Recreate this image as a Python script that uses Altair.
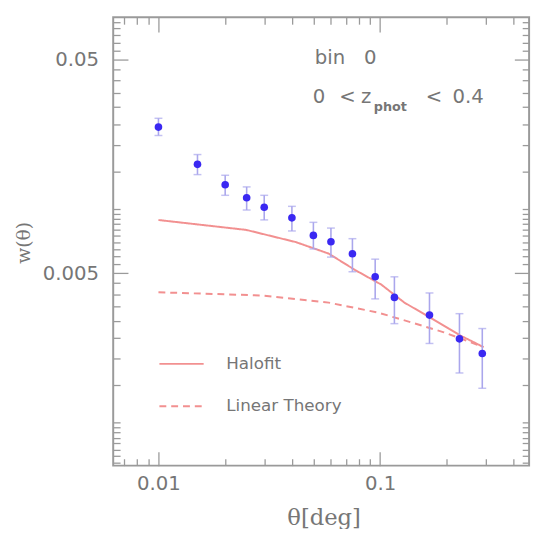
import altair as alt
import pandas as pd

# ---- data ----
theta = [0.01, 0.015, 0.02, 0.025, 0.03, 0.04, 0.05, 0.06, 0.075, 0.095, 0.116, 0.167, 0.228, 0.289]
w = [0.0242, 0.0162, 0.0130, 0.0113, 0.0102, 0.0091, 0.00753, 0.00703, 0.00618, 0.00482, 0.00386, 0.00319, 0.00247, 0.00211]
w_hi = [0.0266, 0.0180, 0.0144, 0.0127, 0.0116, 0.0103, 0.00867, 0.00815, 0.00727, 0.00583, 0.00482, 0.00405, 0.00324, 0.00276]
w_lo = [0.0221, 0.0145, 0.0116, 0.0099, 0.0089, 0.0079, 0.00651, 0.00596, 0.00509, 0.0038, 0.00291, 0.00235, 0.00171, 0.00145]

halo_theta = [0.01, 0.0249, 0.0416, 0.0586, 0.077, 0.1013, 0.1287, 0.1635, 0.2302, 0.2926]
halo_w = [0.00889, 0.00799, 0.00701, 0.00619, 0.00519, 0.00443, 0.00365, 0.00316, 0.00256, 0.00226]
lin_theta = [0.01, 0.0296, 0.0586, 0.0977, 0.138, 0.194, 0.2926]
lin_w = [0.00408, 0.00394, 0.00365, 0.00328, 0.00295, 0.00265, 0.00226]

series_names = ["Halofit", "Linear Theory"]

x_major = [0.01, 0.1]
x_minor = [0.007, 0.008, 0.009, 0.02, 0.03, 0.04, 0.05, 0.06, 0.07, 0.08, 0.09, 0.2, 0.3, 0.4]
y_major = [0.005, 0.05]
y_minor = [0.00065, 0.0007, 0.00075, 0.0008, 0.00085, 0.0009, 0.00095,
           0.001, 0.0015, 0.002, 0.0025, 0.003, 0.0035, 0.004, 0.0045,
           0.0055, 0.006, 0.0065, 0.007, 0.0075, 0.008, 0.0085, 0.009, 0.0095,
           0.01, 0.015, 0.02, 0.025, 0.03, 0.035, 0.04, 0.045,
           0.055, 0.06, 0.065, 0.07, 0.075]

pts = pd.DataFrame({"theta": theta, "w": w, "hi": w_hi, "lo": w_lo})
lines = pd.concat([
    pd.DataFrame({"theta": halo_theta, "w": halo_w, "series": series_names[0]}),
    pd.DataFrame({"theta": lin_theta, "w": lin_w, "series": series_names[1]}),
])

W, H = 423, 456
xs = alt.Scale(type="log", domain=[0.00625, 0.47], nice=False)
ys = alt.Scale(type="log", domain=[0.00063, 0.079], nice=False)

TICK = "#9a9a9a"
TXT = "#767676"
LINEC = "#f29090"


def tick_axis(orient, values, size):
    return alt.Axis(orient=orient, values=values, labels=False, domain=False, grid=False,
                    ticks=True, tickSize=size, offset=-size, tickColor=TICK, tickWidth=1.3,
                    title=None)


x_lab = alt.Axis(orient="bottom", values=x_major, format="~g", ticks=False, tickSize=0,
                 domain=False, grid=False, labelPadding=8, labelFont="DejaVu Sans",
                 labelFontSize=20, labelColor=TXT, title="θ[deg]", titleFont="DejaVu Serif",
                 titleFontSize=23, titleFontWeight="normal", titleColor=TXT,
                 titleX=214, titleY=53, titleBaseline="middle", titleAlign="center")
y_lab = alt.Axis(orient="left", values=y_major, format="~g", ticks=False, tickSize=0,
                 domain=False, grid=False, labelPadding=15, labelFont="DejaVu Sans",
                 labelFontSize=20, labelColor=TXT, title="w(θ)", titleFont="DejaVu Serif",
                 titleFontSize=19, titleFontWeight="normal", titleColor=TXT,
                 titleX=-91, titleY=229, titleAngle=270, titleBaseline="middle",
                 titleAlign="center")

legend = alt.Legend(orient="none", legendX=46, legendY=329, title=None, symbolType="stroke",
                    symbolSize=2025, symbolStrokeWidth=2, labelFont="DejaVu Sans",
                    labelFontSize=17, labelColor=TXT, labelOffset=22, rowPadding=11)

line_layer = alt.Chart(lines).mark_line(strokeWidth=2).encode(
    x=alt.X("theta:Q", scale=xs, axis=x_lab),
    y=alt.Y("w:Q", scale=ys, axis=y_lab),
    color=alt.Color("series:N", scale=alt.Scale(domain=series_names, range=[LINEC, LINEC]),
                    legend=legend),
    strokeDash=alt.StrokeDash("series:N", scale=alt.Scale(domain=series_names, range=[[1, 0], [7, 5]]),
                              legend=legend),
)

err = alt.Chart(pts).mark_rule(color="#aaa6ec", strokeWidth=1.6).encode(
    x=alt.X("theta:Q", scale=xs, axis=tick_axis("bottom", x_major, 14)),
    y=alt.Y("lo:Q", scale=ys, axis=tick_axis("left", y_major, 15)),
    y2="hi:Q",
)
cap_hi = alt.Chart(pts).mark_tick(color="#aaa6ec", orient="horizontal", size=8, thickness=1.5).encode(
    x=alt.X("theta:Q", scale=xs, axis=tick_axis("bottom", x_minor, 7)),
    y=alt.Y("hi:Q", scale=ys, axis=tick_axis("left", y_minor, 7)),
)
cap_lo = alt.Chart(pts).mark_tick(color="#aaa6ec", orient="horizontal", size=8, thickness=1.5).encode(
    x=alt.X("theta:Q", scale=xs, axis=tick_axis("top", x_major, 15)),
    y=alt.Y("lo:Q", scale=ys, axis=tick_axis("right", y_major, 15)),
)
points = alt.Chart(pts).mark_point(filled=True, color="#3a28f2", size=60, opacity=1).encode(
    x=alt.X("theta:Q", scale=xs, axis=tick_axis("top", x_minor, 7)),
    y=alt.Y("w:Q", scale=ys, axis=tick_axis("right", y_minor, 7)),
)


def label(text, x, y, size=20, weight="normal"):
    return alt.Chart(pd.DataFrame({"t": [text]})).mark_text(
        align="left", baseline="alphabetic", font="DejaVu Sans", fontSize=size,
        fontWeight=weight, color=TXT
    ).encode(text="t:N", x=alt.value(x), y=alt.value(y))


annotations = [
    label("bin", 205, 47),
    label("0", 255, 47),
    label("0", 203, 87),
    label("<", 230, 87),
    label("z", 252, 87),
    label("phot", 265, 95, 13, "bold"),
    label("<", 318, 87),
    label("0.4", 345, 87),
]

chart = alt.layer(line_layer, err, cap_hi, cap_lo, points, *annotations).resolve_axis(
    x="independent", y="independent"
).properties(
    width=W, height=H, background="white",
    padding={"left": 107, "top": 5, "right": 6, "bottom": 60},
    autosize=alt.AutoSizeParams(type="none"),
).configure_view(stroke="#9a9a9a", strokeWidth=2)

chart.save("out.html", embed_options={"renderer": "svg", "actions": False})
